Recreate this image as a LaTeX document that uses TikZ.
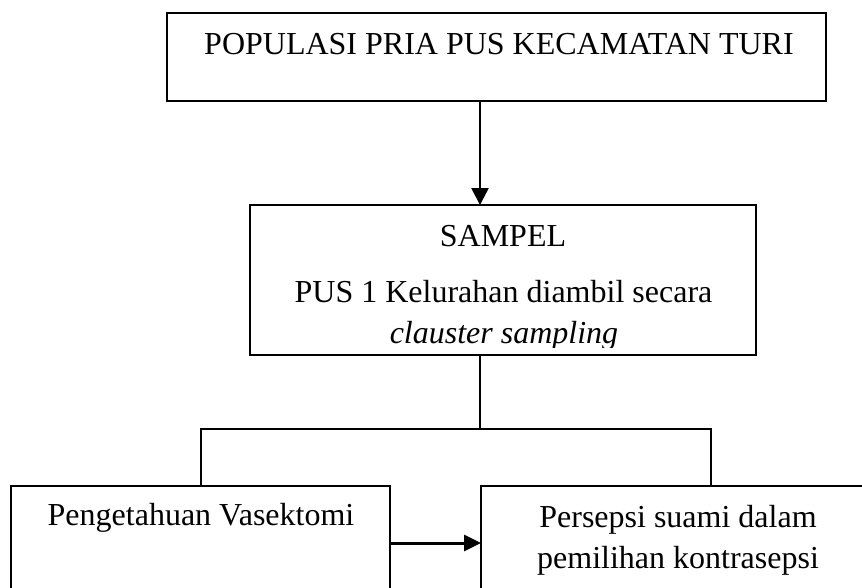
\documentclass[tikz,border=0pt]{standalone}
\usepackage{fontspec}
\setmainfont{Liberation Serif}
\usetikzlibrary{arrows.meta}
\begin{document}
\begin{tikzpicture}[x=1pt,y=-1pt,
  box/.style={draw,line width=2pt,inner sep=0pt,outer sep=0pt},
  txt/.style={anchor=base,inner sep=0pt,font=\fontsize{32}{38}\selectfont},
  arr/.style={line width=2.6pt,-{Triangle[length=17pt,width=17pt]}},
  arrb/.style={line width=3pt,-{Triangle[length=17pt,width=16pt]}},
  link/.style={line width=2pt}]
\useasboundingbox (0,0) rectangle (862,587);
\clip (0,0) rectangle (862,587);
% boxes
\node[box,minimum width=659pt,minimum height=88pt] (top) at (496.5,57) {};
\node[box,minimum width=506pt,minimum height=150pt] (mid) at (503,280) {};
\node[box,minimum width=379pt,minimum height=154pt] (left) at (200.5,563) {};
\node[box,minimum width=394pt,minimum height=154pt] (right) at (678,563) {};
% texts
\node[txt] (t1) at (499,54) {POPULASI PRIA PUS KECAMATAN TURI};
\node[txt] (t2) at (503,246.5) {SAMPEL};
\node[txt] (t3) at (503.5,302.5) {PUS 1 Kelurahan diambil secara};
\begin{scope}
\clip (250,205) rectangle (756,347);
\node[txt] (t4) at (504,343) {\itshape clauster sampling};
\end{scope}
\node[txt] (t5) at (201,525) {Pengetahuan Vasektomi};
\node[txt] (t6) at (678,527) {Persepsi suami dalam};
\node[txt] (t7) at (678,568) {pemilihan kontrasepsi};
% helper coordinates
\coordinate (ax) at (480,0);
\coordinate (hy) at (0,429);
\coordinate (lx) at (201,0);
\coordinate (rx) at (711,0);
\coordinate (ay) at (0,543);
% connectors
\draw[arr] (top.south -| ax) -- (mid.north -| ax);
\draw[link] (mid.south -| ax) -- (hy -| ax);
\draw[link] (left.north -| lx) -- (hy -| lx) -- (hy -| rx) -- (right.north -| rx);
\draw[arrb] (left.east |- ay) -- (right.west |- ay);
\end{tikzpicture}
\end{document}
